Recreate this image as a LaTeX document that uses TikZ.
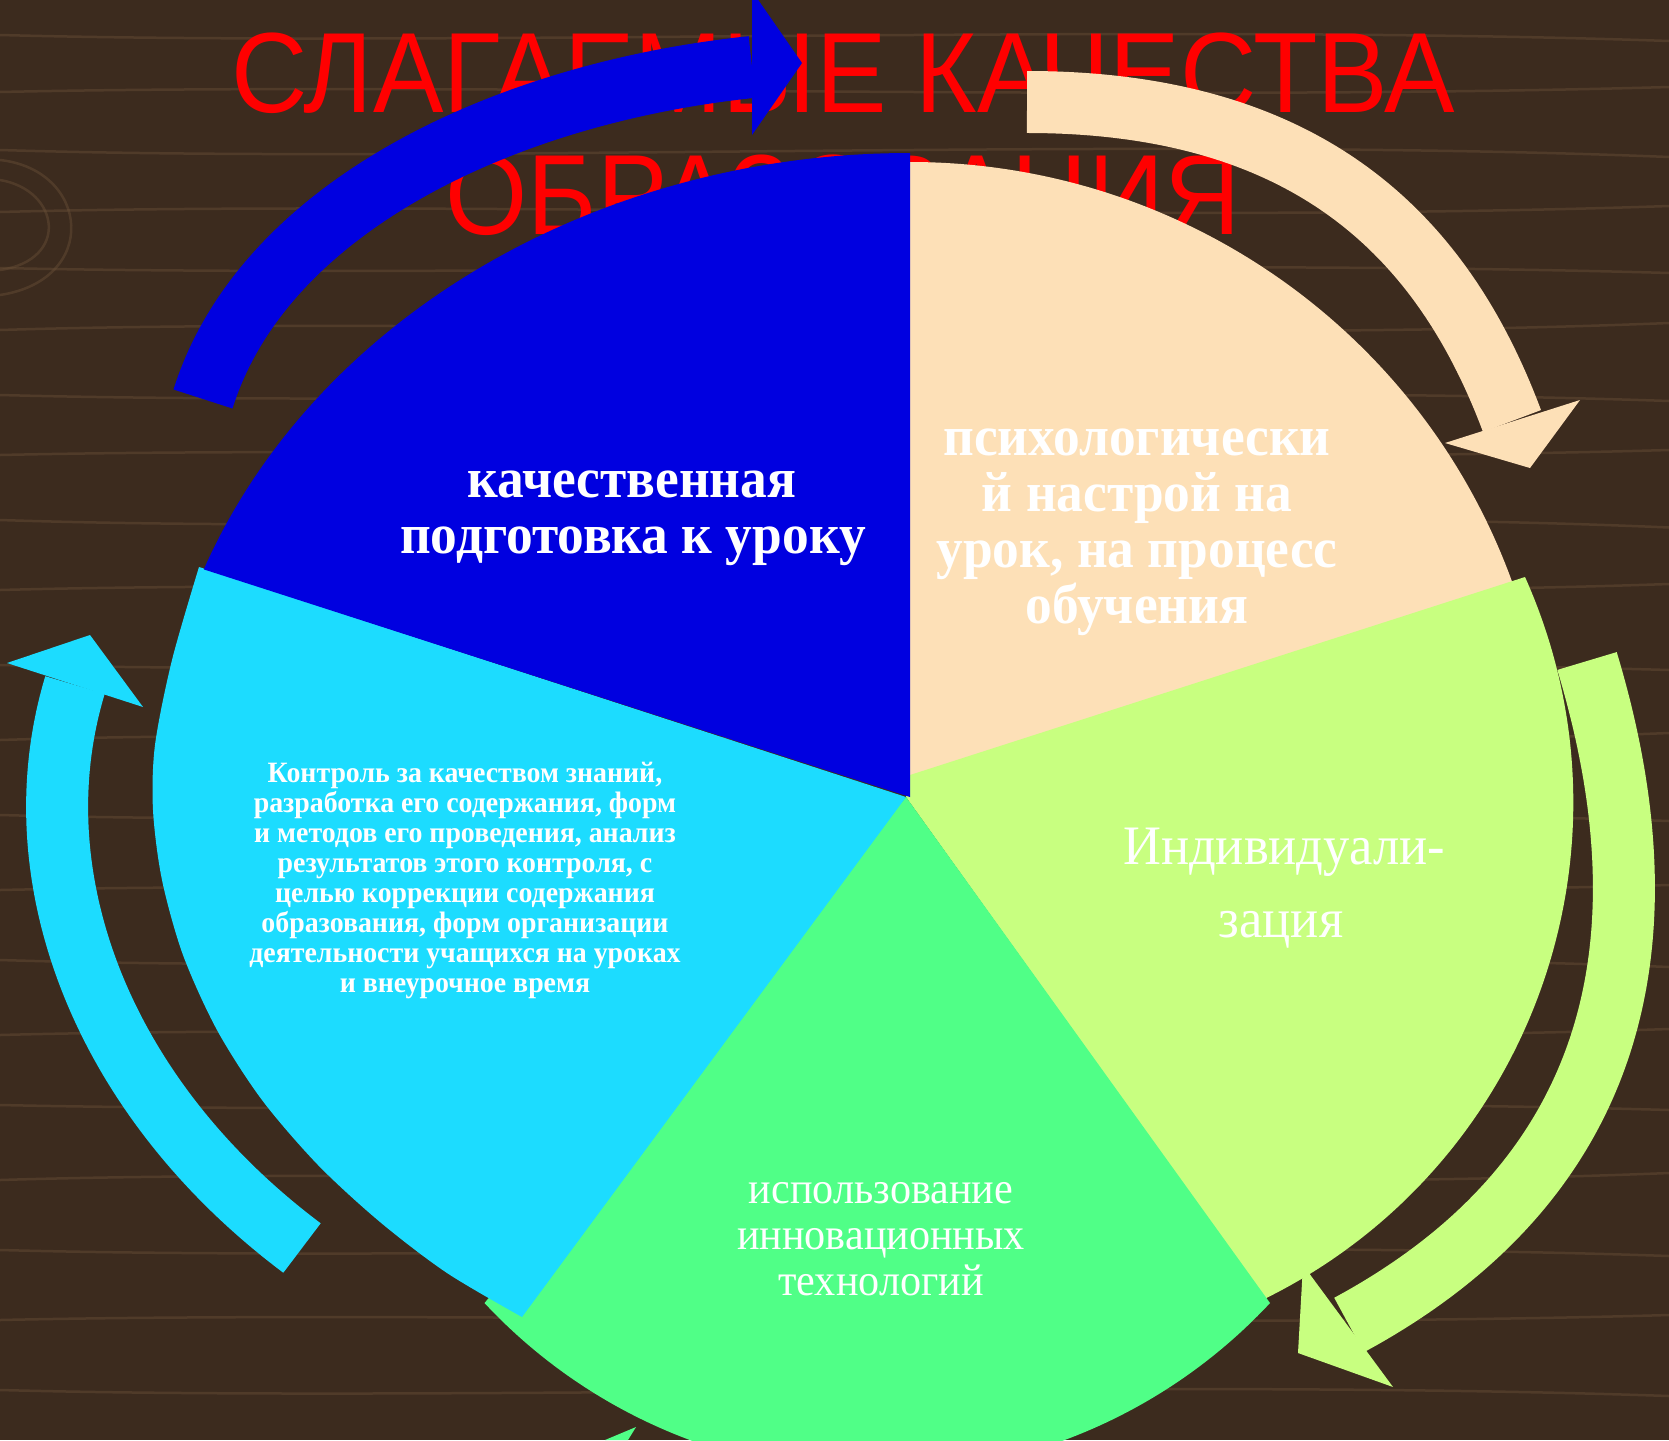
\documentclass[tikz,border=0pt]{standalone}
\usepackage{fontspec}
\usepackage{graphicx}
\setmainfont{Liberation Serif}
\newfontfamily\titlefont{Liberation Sans}
\usetikzlibrary{calc}
\definecolor{bgwood}{RGB}{60,43,30}
\definecolor{grain}{RGB}{105,80,56}
\definecolor{blueC}{RGB}{0,0,224}
\definecolor{peachC}{RGB}{253,224,183}
\definecolor{limeC}{RGB}{200,255,128}
\definecolor{greenC}{RGB}{80,255,135}
\definecolor{cyanC}{RGB}{28,220,255}
\definecolor{titleC}{RGB}{255,0,0}
\tikzset{
  lbl/.style={text=white, anchor=base, inner sep=0pt, yscale=1.06, transform shape},
  ttl/.style={text=titleC, anchor=base, inner sep=0pt, yscale=1.08, transform shape},
  band/.style={line width=1.24cm, line cap=butt},
  woodline/.style={draw=grain, line width=0.05cm, opacity=0.45}
}
\begin{document}
\begin{tikzpicture}[x=0.02cm,y=-0.02cm]
\useasboundingbox (0,0) rectangle (1669,1440);
\clip (0,0) rectangle (1669,1440);
% background
\fill[bgwood] (0,0) rectangle (1669,1440);
\foreach \yy/\aa in {35/12,92/-10,150/14,212/-12,268/10,330/-14,395/12,455/-10,520/15,590/-12,665/10,740/-14,815/12,890/-10,960/14,1035/-12,1105/10,1180/-14,1250/12,1320/-10,1390/12}
  \draw[woodline] (0,\yy) .. controls (450,\yy+\aa) and (1150,\yy-\aa) .. (1669,\yy+0.5*\aa);
\draw[woodline] (0,180) .. controls (60,190) and (70,260) .. (0,270);
\draw[woodline] (0,160) .. controls (90,170) and (100,280) .. (0,295);

% title
\node[ttl] (title1) at (843,112) {\titlefont\fontsize{60.1pt}{62pt}\selectfont СЛАГАЕМЫЕ КАЧЕСТВА};
\node[ttl] (title2) at (843,234) {\titlefont\fontsize{60.1pt}{62pt}\selectfont ОБРАЗОВАНИЯ};

% sectors
\fill[peachC] (910,797) -- ++(270:640 and 635) arc[start angle=270, end angle=340.4, x radius=640, y radius=635] -- cycle;
\fill[limeC] (906,797) -- (910,775) -- (1525,577) arc[start angle=-24.1, end angle=63.7, radius=553] -- cycle;
\fill[greenC] (906,797) -- (1270,1303) arc[start angle=43, end angle=137, radius=537] -- cycle;
\fill[cyanC] (906,797) -- plot[smooth] coordinates {(199,567) (172,660) (155,745) (153,810) (162,880) (183,955) (217,1030) (262,1100) (318,1165) (380,1222) (447,1273) (522,1317)} -- cycle;
\fill[blueC] (910,797) -- ++(200.7:755 and 644) arc[start angle=200.7, end angle=270, x radius=755, y radius=644] -- cycle;

% arrows
\coordinate (bT) at (203,399); \coordinate (bH) at (752,67);
\draw[band, blueC] (bT) .. controls (263,208) and (503,93) .. (bH);
\fill[blueC] (752,-9) -- (802,63) -- (752,135) -- cycle;

\coordinate (pT) at (1027,102); \coordinate (pH) at (1512,421);
\draw[band, peachC] (pT) .. controls (1307,102) and (1442,234) .. (pH);
\fill[peachC] (1445,443) -- (1530,468) -- (1580,400) -- cycle;

\coordinate (lT) at (1587,661); \coordinate (lH) at (1349,1325);
\draw[band, limeC] (lT) .. controls (1674,949) and (1612,1183) .. (lH);
\fill[limeC] (1303,1265) -- (1298,1353) -- (1393,1387) -- cycle;

\coordinate (cT) at (302,1248); \coordinate (cH) at (75,685);
\draw[band, cyanC] (cT) .. controls (102,1098) and (17,877) .. (cH);
\fill[cyanC] (7,663) -- (90,635) -- (143,707) -- cycle;

\fill[greenC] (605,1440) -- (636,1427) -- (628,1440) -- cycle;

% texts
\node[lbl] (b1) at (632,497) {\bfseries\fontsize{30.4pt}{32pt}\selectfont качественная};
\node[lbl] (b2) at (633,553) {\bfseries\fontsize{30.4pt}{32pt}\selectfont подготовка к уроку};

\node[lbl] (p1) at (1137,455) {\bfseries\fontsize{30.4pt}{32pt}\selectfont психологически};
\node[lbl] (p2) at (1137,511) {\bfseries\fontsize{30.4pt}{32pt}\selectfont й настрой на};
\node[lbl] (p3) at (1137,567) {\bfseries\fontsize{30.4pt}{32pt}\selectfont урок, на процесс};
\node[lbl] (p4) at (1137,623) {\bfseries\fontsize{30.4pt}{32pt}\selectfont обучения};

\node[lbl] (l1) at (1284,864) {\fontsize{29.9pt}{31pt}\selectfont Индивидуали-};
\node[lbl] (l2) at (1281,937) {\fontsize{29.9pt}{31pt}\selectfont зация};

\node[lbl] (g1) at (881,1203) {\fontsize{24pt}{26pt}\selectfont использование};
\node[lbl] (g2) at (881,1249) {\fontsize{24pt}{26pt}\selectfont инновационных};
\node[lbl] (g3) at (881,1295) {\fontsize{24pt}{26pt}\selectfont технологий};

\node[lbl] (c1) at (465,782) {\bfseries\fontsize{15.85pt}{17pt}\selectfont Контроль за качеством знаний,};
\node[lbl] (c2) at (465,812) {\bfseries\fontsize{15.85pt}{17pt}\selectfont разработка его содержания, форм};
\node[lbl] (c3) at (465,842) {\bfseries\fontsize{15.85pt}{17pt}\selectfont и методов его проведения, анализ};
\node[lbl] (c4) at (465,872) {\bfseries\fontsize{15.85pt}{17pt}\selectfont результатов этого контроля, с};
\node[lbl] (c5) at (465,902) {\bfseries\fontsize{15.85pt}{17pt}\selectfont целью коррекции содержания};
\node[lbl] (c6) at (465,932) {\bfseries\fontsize{15.85pt}{17pt}\selectfont образования, форм организации};
\node[lbl] (c7) at (465,962) {\bfseries\fontsize{15.85pt}{17pt}\selectfont деятельности учащихся на уроках};
\node[lbl] (c8) at (465,992) {\bfseries\fontsize{15.85pt}{17pt}\selectfont и внеурочное время};
\end{tikzpicture}
\end{document}
